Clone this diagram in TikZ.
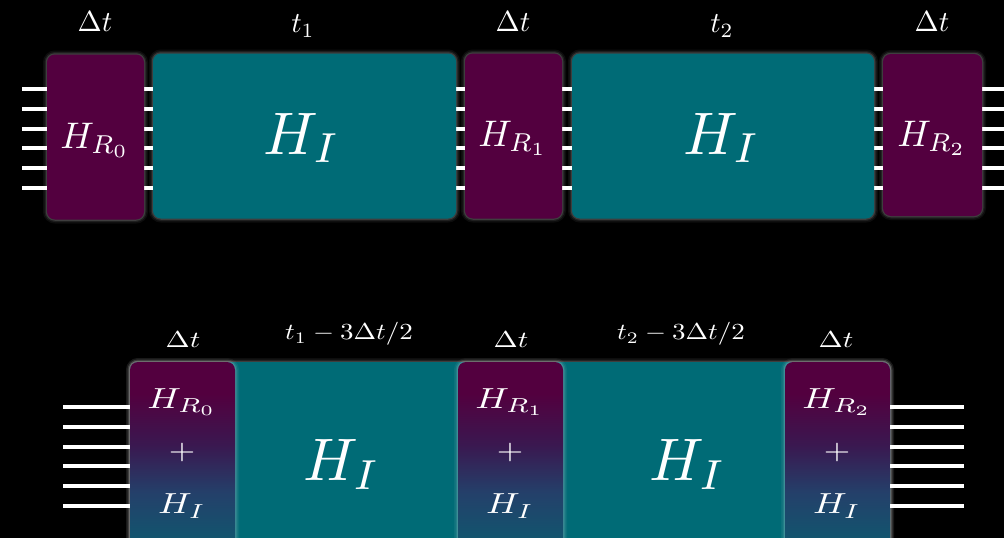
\documentclass[tikz,border=0pt]{standalone}
\usepackage{graphicx}
\definecolor{purp}{HTML}{53003F}
\definecolor{tealc}{HTML}{006B76}
\definecolor{midp}{HTML}{3A1850}
\definecolor{blu}{HTML}{24406A}
\definecolor{tdark}{HTML}{0B5C70}
\pgfdeclareverticalshading{hgrad}{100bp}{color(0bp)=(tdark); color(26bp)=(tdark); color(42bp)=(blu); color(54bp)=(midp); color(67bp)=(purp); color(100bp)=(purp)}
\tikzset{
  glow/.style={preaction={draw=white,draw opacity=0.05,line width=8pt},
               preaction={draw=white,draw opacity=0.08,line width=5pt},
               preaction={draw=white,draw opacity=0.14,line width=2.5pt}},
  rbox/.style={glow, fill=purp, rounded corners=8pt, minimum width=97pt,
               minimum height=165pt, inner sep=0pt},
  ibox/.style={glow, fill=tealc, rounded corners=8pt, minimum width=303pt,
               minimum height=165pt, inner sep=0pt},
  gbox/.style={glow, shade, shading=hgrad, rounded corners=8pt, minimum width=105pt,
               minimum height=198pt, inner sep=0pt},
  wire/.style={draw=white, line width=3.5pt},
  lab/.style={text=white, inner sep=0pt},
}
% #1 = horizontal scale, #2 = vertical scale, #3 = content
\newcommand{\sz}[3]{\scalebox{#1}[#2]{#3}}
\begin{document}
\begin{tikzpicture}[x=1pt,y=-1pt]
\fill[black] (0,0) rectangle (1004,538);
\useasboundingbox (0,0) rectangle (1004,538);
\clip (0,0) rectangle (1004,538);

% ---------- top row wires ----------
\foreach \i/\y in {1/89,2/109,3/129,4/148,5/168,6/188}{
  \coordinate (tl\i) at (22,\y);
  \coordinate (tr\i) at (1004,\y);
  \draw[wire] (tl\i) -- (tr\i);
}
% ---------- top row boxes ----------
\node[rbox] (r0) at (95.5,137) {};
\node[ibox] (i1) at (304.5,136) {};
\node[rbox] (r1) at (513.5,136) {};
\node[ibox, minimum width=302pt] (i2) at (723,136) {};
\node[rbox, minimum width=99pt, minimum height=162pt] (r2) at (932.5,135) {};

\node[lab] (r0t) at (95,140) {\sz{3.7}{3.7}{$H_{R_0}$}};
\node[lab] (i1t) at (302,138) {\sz{6}{6}{$H_I$}};
\node[lab] (r1t) at (513,138) {\sz{3.7}{3.7}{$H_{R_1}$}};
\node[lab] (i2t) at (722,138) {\sz{6}{6}{$H_I$}};
\node[lab] (r2t) at (932,138) {\sz{3.7}{3.7}{$H_{R_2}$}};

\node[lab] (d0) at (95,22) {\sz{2.9}{2.9}{$\Delta t$}};
\node[lab] (t1) at (303,26) {\sz{2.9}{2.9}{$t_1$}};
\node[lab] (d1) at (513,22) {\sz{2.9}{2.9}{$\Delta t$}};
\node[lab] (t2) at (722,26) {\sz{2.9}{2.9}{$t_2$}};
\node[lab] (d2) at (932,22) {\sz{2.9}{2.9}{$\Delta t$}};

% ---------- bottom row ----------
\node[glow, fill=tealc, rounded corners=8pt, minimum width=760pt, minimum height=198pt,
      inner sep=0pt] (base) at (510,461) {};
\foreach \i/\y in {1/407,2/427,3/447,4/466,5/486,6/506}{
  \coordinate (bl\i) at (63,\y);
  \coordinate (br\i) at (964,\y);
}
\node[gbox] (g0) at (182.5,461) {};
\node[gbox] (g1) at (510.5,461) {};
\node[gbox] (g2) at (837.5,461) {};
\foreach \i in {1,...,6}{
  \draw[wire] (bl\i) -- (g0.west |- bl\i);
  \draw[wire] (g2.east |- br\i) -- (br\i);
}

\node[lab] (g0a) at (182,402) {\sz{3.7}{2.9}{$H_{R_0}$}};
\node[lab] (g0b) at (182,452) {\sz{3.4}{2.8}{$+$}};
\node[lab] (g0c) at (182,506) {\sz{3.7}{2.9}{$H_I$}};
\node[lab] (g1a) at (510,402) {\sz{3.7}{2.9}{$H_{R_1}$}};
\node[lab] (g1b) at (510,452) {\sz{3.4}{2.8}{$+$}};
\node[lab] (g1c) at (510,506) {\sz{3.7}{2.9}{$H_I$}};
\node[lab] (g2a) at (837,402) {\sz{3.7}{2.9}{$H_{R_2}$}};
\node[lab] (g2b) at (837,452) {\sz{3.4}{2.8}{$+$}};
\node[lab] (g2c) at (837,506) {\sz{3.7}{2.9}{$H_I$}};

\node[lab] (b1t) at (342,464) {\sz{6}{6}{$H_I$}};
\node[lab] (b2t) at (688,464) {\sz{6}{6}{$H_I$}};

\node[lab] (e0) at (183,340) {\sz{2.9}{2.3}{$\Delta t$}};
\node[lab] (e1) at (511,340) {\sz{2.9}{2.3}{$\Delta t$}};
\node[lab] (e2) at (836,340) {\sz{2.9}{2.3}{$\Delta t$}};
\node[lab] (f1) at (349,334) {\sz{2.7}{2.3}{$t_1-3\Delta t/2$}};
\node[lab] (f2) at (681,334) {\sz{2.7}{2.3}{$t_2-3\Delta t/2$}};
\end{tikzpicture}
\end{document}
